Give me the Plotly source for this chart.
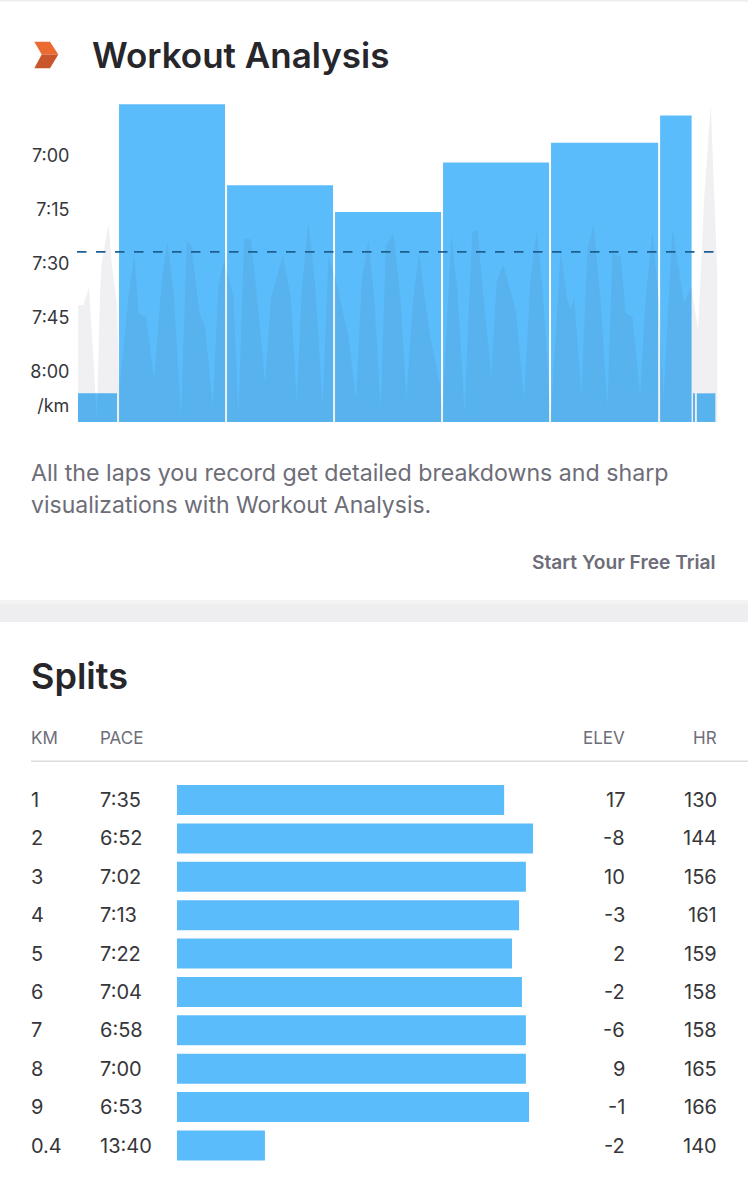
import plotly.graph_objects as go

W, H = 748, 1200

# ---- Workout analysis data ----
lap_km = [0.38, 1.0, 1.0, 1.0, 1.0, 1.01, 0.31, 0.03, 0.19]
lap_pace_s = [486.2, 405.9, 428.4, 435.8, 422.1, 416.6, 409, 486.2, 486.2]
avg_pace_s = 446.9
pace_tick_vals = [420.3, 435.3, 450.3, 465.3, 480.3, 489.7]
pace_tick_text = ["7:00", "7:15", "7:30", "7:45", "8:00", "/km"]
profile_km = [0.0, 0.049, 0.102, 0.157, 0.173, 0.204, 0.219, 0.281, 0.312, 0.358, 0.383, 0.466, 0.522, 0.559, 0.630,
              0.704, 0.775, 0.827, 0.883, 0.954, 1.006, 1.052, 1.123, 1.176, 1.247, 1.299, 1.352, 1.438, 1.485, 1.537,
              1.599, 1.670, 1.731, 1.787, 1.895, 1.969, 2.025, 2.071, 2.133, 2.194, 2.265, 2.318, 2.380, 2.503, 2.574,
              2.627, 2.688, 2.741, 2.802, 2.849, 2.920, 2.988, 3.040, 3.102, 3.157, 3.250, 3.349, 3.373, 3.457, 3.512,
              3.580, 3.620, 3.651, 3.698, 3.759, 3.827, 3.877, 3.938, 4.052, 4.130, 4.191, 4.247, 4.299, 4.377, 4.469,
              4.531, 4.562, 4.593, 4.660, 4.716, 4.772, 4.840, 4.901, 4.948, 5.025, 5.071, 5.133, 5.204, 5.256, 5.318,
              5.380, 5.420, 5.503, 5.611, 5.679, 5.741, 5.796, 5.858, 5.895, 5.920]
profile_s = [461.7, 461.7, 456.8, 484.4, 494.1, 457.5, 450.1, 439.2, 450.1, 461.2, 485.3, 459.4, 447.3, 464.0, 464.9,
             482.5, 454.7, 444.1, 457.5, 492.7, 443.6, 445.5, 464.0, 467.7, 489.9, 456.6, 449.2, 459.4, 492.7, 443.4,
             443.4, 463.1, 483.4, 459.8, 447.8, 459.4, 489.0, 457.5, 438.5, 455.6, 489.9, 448.2, 453.8, 470.5, 488.0,
             454.7, 443.6, 459.4, 490.8, 445.5, 441.8, 461.2, 488.0, 460.3, 447.3, 468.6, 483.4, 490.8, 442.2, 457.5,
             491.8, 461.2, 441.3, 440.8, 461.2, 481.6, 454.7, 450.6, 463.1, 488.0, 453.8, 440.8, 456.6, 492.7, 446.4,
             460.3, 463.1, 459.4, 487.1, 446.4, 439.0, 461.2, 489.9, 447.3, 448.2, 464.0, 464.9, 487.1, 459.4, 441.3,
             461.2, 488.0, 440.4, 461.2, 456.6, 468.6, 432.5, 406.1, 432.5, 453.8]

# ---- Splits data ----
split_km = ["1", "2", "3", "4", "5", "6", "7", "8", "9", "0.4"]
split_pace = ["7:35", "6:52", "7:02", "7:13", "7:22", "7:04", "6:58", "7:00", "6:53", "13:40"]
split_bar_pct = [91.9, 100, 98.0, 96.1, 94.1, 96.9, 98.0, 98.0, 98.9, 24.7]
split_elev = [17, -8, 10, -3, 2, -2, -6, 9, -1, -2]
split_hr = [130, 144, 156, 161, 159, 158, 158, 165, 166, 140]

BLUE = "#5bbcfb"
INK = "#26262b"
GREY = "#6d6d78"
ROW = "#36363b"
FONT = "Inter"

PX_PER_KM = 108.0
PACE_PX_PER_S = 3.6
BOTTOM_S = 420 + (422 - 155) / PACE_PX_PER_S
TOP_S = 420 - (155 - 100) / PACE_PX_PER_S
X_START_KM = -0.01
BAR_PX_PER_PCT = 3.56


def px_x(p):
    return p / W


def px_y(p):
    return 1 - p / H


fig = go.Figure()

# laps
gap = 2 / PX_PER_KM
edges = [X_START_KM]
for v in lap_km:
    edges.append(edges[-1] + v)
centers = [(a + b) / 2 for a, b in zip(edges[:-1], edges[1:])]
fig.add_trace(go.Bar(
    x=centers, y=[p - BOTTOM_S for p in lap_pace_s], base=BOTTOM_S,
    width=[v - gap for v in lap_km], marker=dict(color=BLUE, line=dict(width=0)),
    xaxis="x", yaxis="y", hoverinfo="skip"))

# translucent profile over the laps
fig.add_trace(go.Scatter(
    x=[profile_km[0]] + profile_km + [profile_km[-1]],
    y=[BOTTOM_S] + profile_s + [BOTTOM_S],
    mode="lines", fill="toself", line=dict(width=0),
    fillcolor="rgba(60,60,90,0.08)", xaxis="x", yaxis="y", hoverinfo="skip"))

# average pace
fig.add_trace(go.Scatter(
    x=[X_START_KM, profile_km[-1]], y=[avg_pace_s, avg_pace_s], mode="lines",
    line=dict(color="#1d6090", width=1.8, dash="9.5px,9.5px"),
    xaxis="x", yaxis="y", hoverinfo="skip"))

# splits
rows = list(range(len(split_km)))
fig.add_trace(go.Bar(
    y=rows, x=split_bar_pct, orientation="h",
    width=30 / 38.39, marker=dict(color=BLUE, line=dict(width=0)),
    xaxis="x2", yaxis="y2", hoverinfo="skip"))

ann = []


def label(text, x, y, size, color, anchor="left", weight=400, yref="paper"):
    ann.append(dict(
        text=text, x=px_x(x), xref="paper", y=y if yref != "paper" else px_y(y), yref=yref,
        xanchor=anchor, yanchor="middle", showarrow=False, borderpad=0, borderwidth=0,
        font=dict(family=FONT, size=size, color=color, weight=weight)))


label("Workout Analysis", 92, 55, 35, INK, weight=600)
label("All the laps you record get detailed breakdowns and sharp", 31, 473, 23.2, GREY)
label("visualizations with Workout Analysis.", 31, 505, 23, GREY)
label("Start Your Free Trial", 716, 562, 19.2, GREY, anchor="right", weight=600)
label("Splits", 31, 676, 36, INK, weight=600)
label("KM", 31, 738, 17, GREY)
label("PACE", 100, 738, 17, GREY)
label("ELEV", 625, 738, 17, GREY, anchor="right")
label("HR", 717, 738, 17, GREY, anchor="right")
for i in rows:
    label(split_km[i], 31, i, 20, ROW, yref="y2")
    label(split_pace[i], 100, i, 20, ROW, yref="y2")
    label(str(split_elev[i]), 625, i, 20, ROW, anchor="right", yref="y2")
    label(str(split_hr[i]), 717, i, 20, ROW, anchor="right", yref="y2")


def poly(points, color):
    path = "M " + " L ".join(f"{px_x(a):.5f} {px_y(b):.5f}" for a, b in points) + " Z"
    return dict(type="path", xref="paper", yref="paper", path=path, fillcolor=color,
                line=dict(width=0), layer="below")


def band(y0, y1, color, x0=0, x1=W):
    return dict(type="rect", xref="paper", yref="paper", x0=px_x(x0), x1=px_x(x1), y0=px_y(y1), y1=px_y(y0),
                fillcolor=color, line=dict(width=0), layer="below")


shapes = [
    band(0, 1.5, "#eeeeef"),
    band(600, 604, "#f3f3f4"),
    band(604, 622, "#eeeef0"),
    band(760.5, 762, "#dddde0", x0=31),
    poly([(34.3, 41.7), (50, 41.7), (58.3, 54.6), (41.7, 54.6)], "#ea6a30"),
    poly([(41.7, 54.6), (58.3, 54.6), (50, 68.3), (34.3, 68.3)], "#c9552a"),
]

fig.update_layout(
    width=W, height=H, margin=dict(l=0, r=0, t=0, b=0, autoexpand=False),
    paper_bgcolor="white", plot_bgcolor="rgba(0,0,0,0)", showlegend=False, barmode="overlay",
    annotations=ann, shapes=shapes,
    font=dict(family=FONT),
    xaxis=dict(domain=[px_x(77), px_x(718)], range=[X_START_KM, X_START_KM + 641 / PX_PER_KM],
               visible=False, fixedrange=True),
    yaxis=dict(domain=[px_y(422), px_y(100)], range=[BOTTOM_S, TOP_S], tickvals=pace_tick_vals,
               ticktext=pace_tick_text, showgrid=False, zeroline=False, showline=False,
               ticks="outside", ticklen=3, tickcolor="rgba(0,0,0,0)",
               tickfont=dict(family=FONT, size=18, color=ROW), fixedrange=True),
    xaxis2=dict(domain=[0, 1], anchor="y2",
                range=[-177 / BAR_PX_PER_PCT, (W - 177) / BAR_PX_PER_PCT],
                visible=False, fixedrange=True),
    yaxis2=dict(domain=[px_y(1165), px_y(780)], anchor="x2",
                range=[(1165 - 800) / 38.39, (780 - 800) / 38.39], visible=False, fixedrange=True),
)

fig.write_html("out.html", config=dict(displayModeBar=False),
               post_script="document.body.style.margin='0';document.body.style.overflow='hidden';")
